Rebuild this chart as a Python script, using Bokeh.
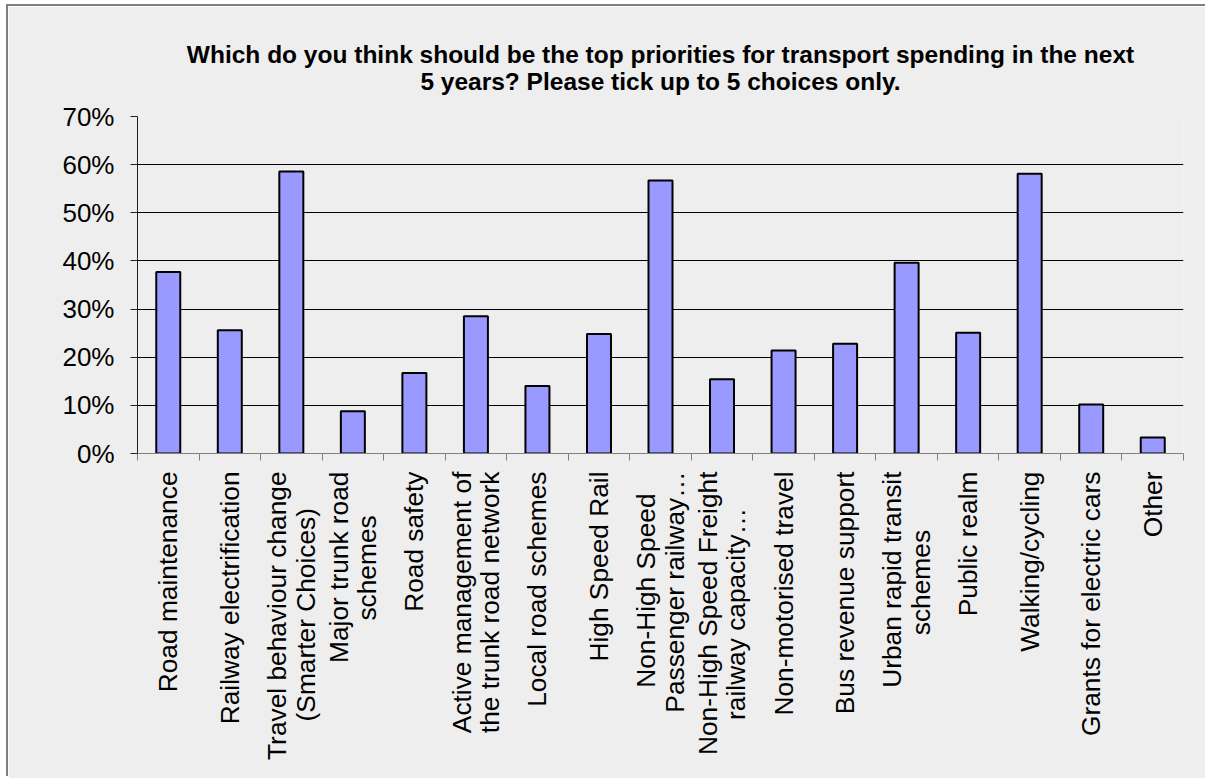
import math
from bokeh.plotting import figure
from bokeh.models import (FixedTicker, NumeralTickFormatter, Range1d, Title,
                          LinearAxis, Grid, ColumnDataSource)
from bokeh.embed import file_html
from bokeh.resources import INLINE

title_text = ("Which do you think should be the top priorities for transport spending in the next\n"
              "5 years? Please tick up to 5 choices only.")

categories = [
    "Road maintenance",
    "Railway electrification",
    "Travel behaviour change\n(Smarter Choices)",
    "Major trunk road\nschemes",
    "Road safety",
    "Active management of\nthe trunk road network",
    "Local road schemes",
    "High Speed Rail",
    "Non-High Speed\nPassenger railway…",
    "Non-High Speed Freight\nrailway capacity…",
    "Non-motorised travel",
    "Bus revenue support",
    "Urban rapid transit\nschemes",
    "Public realm",
    "Walking/cycling",
    "Grants for electric cars",
    "Other",
]
values = [0.377, 0.256, 0.586, 0.088, 0.167, 0.285, 0.140, 0.248, 0.567,
          0.154, 0.214, 0.228, 0.396, 0.251, 0.581, 0.102, 0.033]
y_ticks = [0.0, 0.1, 0.2, 0.3, 0.4, 0.5, 0.6, 0.7]

FONT = "Liberation Sans"
LABEL_PX = 26.3
NBSP = "\u00a0"

# Arial/Liberation Sans advance widths (1/1000 em): used to centre the
# shorter line of a two-line label on the longer one
_W = {" ": 278, "(": 333, ")": 333, "-": 333, "/": 278, "…": 1000,
      "A": 667, "B": 667, "C": 722, "F": 611, "G": 778, "H": 722, "L": 556,
      "M": 833, "N": 722, "O": 778, "P": 667, "R": 722, "S": 667, "T": 611,
      "U": 722, "W": 944,
      "a": 556, "b": 556, "c": 500, "d": 556, "e": 556, "f": 278, "g": 556,
      "h": 556, "i": 222, "j": 222, "k": 500, "l": 222, "m": 833, "n": 556,
      "o": 556, "p": 556, "q": 556, "r": 333, "s": 500, "t": 278, "u": 556,
      "v": 500, "w": 722, "x": 500, "y": 500, "z": 500}


def text_len(s):
    return sum(_W.get(ch, 556) for ch in s)


def centred(label):
    lines = label.split("\n")
    if len(lines) == 1:
        return label
    longest = max(text_len(s) for s in lines)
    out = []
    for s in lines:
        k = int(round((longest - text_len(s)) / 2 / 278))
        out.append(s + NBSP * k)
    return "\n".join(out)


n = len(categories)
centers = [i + 0.5 for i in range(n)]
bounds = [float(i) for i in range(n + 1)]

src = ColumnDataSource(dict(x=centers, top=values))

p = figure(width=1201, height=772, x_range=Range1d(0, n), y_range=Range1d(0, 0.7),
           output_backend="svg", toolbar_location=None,
           x_axis_type=None, y_axis_type=None,
           min_border_left=129, min_border_right=26,
           min_border_top=110, min_border_bottom=325,
           background_fill_color="#eeeeee", border_fill_color="#eeeeee")
p.outline_line_color = None
p.styles = {"position": "absolute", "left": "8px", "top": "6px",
            "box-shadow": "-2px -2px 0 0 #7f7f7f"}

yaxis = LinearAxis(ticker=FixedTicker(ticks=y_ticks, minor_ticks=[]),
                   formatter=NumeralTickFormatter(format="0%"))
yaxis.major_tick_out = 7
yaxis.major_tick_in = 0
yaxis.minor_tick_out = 0
yaxis.axis_line_color = "#222222"
yaxis.major_tick_line_color = "#222222"
yaxis.major_label_standoff = 16
yaxis.major_label_text_font = FONT
yaxis.major_label_text_font_size = "26px"
yaxis.major_label_text_color = "black"
p.add_layout(yaxis, "left")

xaxis = LinearAxis(ticker=FixedTicker(ticks=centers, minor_ticks=bounds))
xaxis.major_label_overrides = {c: centred(lab) for c, lab in zip(centers, categories)}
xaxis.major_tick_out = 0
xaxis.major_tick_in = 0
xaxis.minor_tick_out = 7
xaxis.minor_tick_in = 0
xaxis.minor_tick_line_color = "#808080"
xaxis.axis_line_color = "#808080"
xaxis.major_label_orientation = math.pi / 2
xaxis.major_label_standoff = 11
xaxis.major_label_text_font = FONT
xaxis.major_label_text_font_size = f"{LABEL_PX}px"
xaxis.major_label_text_line_height = 0.95
xaxis.major_label_text_color = "black"
p.add_layout(xaxis, "below")

grid = Grid(dimension=1, ticker=yaxis.ticker, grid_line_color="black", grid_line_width=1)
p.add_layout(grid)

p.vbar(x="x", top="top", bottom=0, width=0.39, source=src,
       fill_color="#9999ff", line_color="black", line_width=2)

p.add_layout(Title(text=title_text, align="center", vertical_align="bottom",
                   text_align="center", standoff=43, text_font=FONT,
                   text_font_size="24.5px", text_font_style="bold",
                   text_line_height=1.0, text_color="black"), "above")

open("out.html", "w").write(file_html(p, INLINE))
